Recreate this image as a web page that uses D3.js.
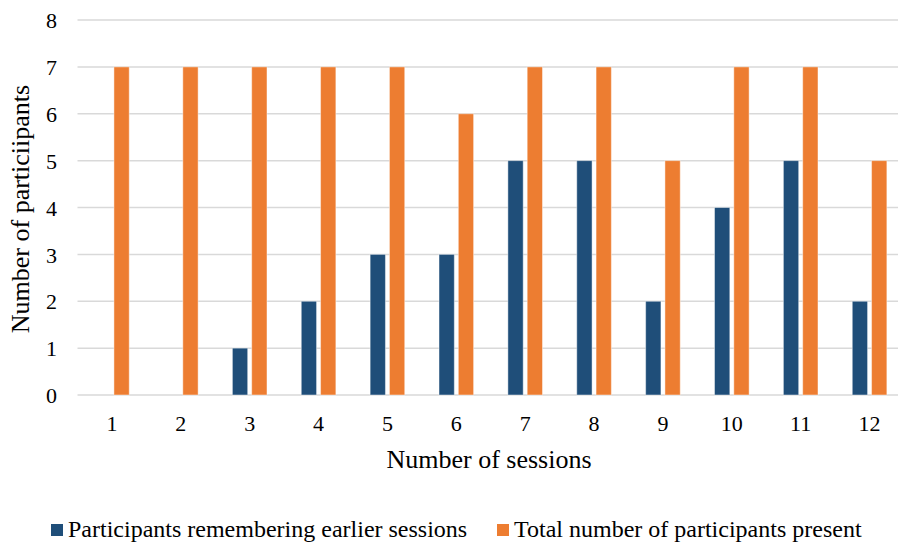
<!DOCTYPE html>
<html>
<head>
<meta charset="utf-8">
<script src="https://cdn.jsdelivr.net/npm/d3@7"></script>
<style>
html, body { margin: 0; padding: 0; background: #fff; }
svg { display: block; }
text { font-family: "Liberation Serif", "Times New Roman", serif; fill: #000; }
</style>
</head>
<body>
<svg id="chart" width="898" height="542"></svg>
<script>
const sessions = ["1","2","3","4","5","6","7","8","9","10","11","12"];
const seriesNames = ["Participants remembering earlier sessions", "Total number of participants present"];
const remembering = [0, 0, 1, 2, 3, 3, 5, 5, 2, 4, 5, 2];
const totalPresent = [7, 7, 7, 7, 7, 6, 7, 7, 5, 7, 7, 5];
const yTicks = [0, 1, 2, 3, 4, 5, 6, 7, 8];
const colors = ["#1F4E79", "#ED7D31"];

const svg = d3.select("#chart");
const W = 898, H = 542;
const plot = { left: 77.5, right: 904, top: 20, bottom: 395 };

const x0 = d3.scaleBand().domain(sessions).range([plot.left, plot.right]).paddingInner(0).paddingOuter(0);
const x1 = d3.scaleBand().domain([0, 1]).range([0, x0.bandwidth()]).paddingInner(0.207).paddingOuter(0.888);
const y = d3.scaleLinear().domain([0, 8]).range([plot.bottom, plot.top]);

// gridlines
svg.append("g").selectAll("line").data(yTicks).join("line")
  .attr("x1", plot.left).attr("x2", W)
  .attr("y1", d => y(d)).attr("y2", d => y(d))
  .attr("stroke", "#d9d9d9").attr("stroke-width", 1.5);

// y tick labels
const yAxis = d3.axisLeft(y).tickValues(yTicks).tickSize(0).tickPadding(0).tickFormat(d3.format("d"));
const gy = svg.append("g").attr("transform", `translate(${57},0)`).call(yAxis);
gy.select(".domain").remove();
gy.selectAll("text").attr("font-size", 22).attr("font-family", "Liberation Serif").attr("fill", "#000").attr("dy", "0.35em");

// x tick labels
const xAxis = d3.axisBottom(x0).tickSize(0).tickPadding(0);
const gx = svg.append("g").attr("transform", `translate(0,${431})`).call(xAxis);
gx.select(".domain").remove();
gx.selectAll("text").attr("font-size", 22).attr("font-family", "Liberation Serif").attr("fill", "#000").attr("dy", 0);

// bars
const seriesData = [remembering, totalPresent];
const groups = svg.append("g").selectAll("g").data(sessions).join("g")
  .attr("transform", d => `translate(${x0(d)},0)`);
groups.selectAll("rect").data((d, i) => seriesData.map((s, k) => ({ k, v: s[i] })))
  .join("rect")
  .filter(d => d.v > 0)
  .attr("x", d => x1(d.k))
  .attr("width", x1.bandwidth())
  .attr("y", d => y(d.v))
  .attr("height", d => y(0) - y(d.v))
  .attr("fill", d => colors[d.k])
  .attr("stroke", "#ffffff").attr("stroke-opacity", 0.45).attr("stroke-width", 1);

// axis titles
svg.append("text").attr("x", 489).attr("y", 468).attr("text-anchor", "middle")
  .attr("font-size", 26).text("Number of sessions");
svg.append("text").attr("transform", `translate(29,${209}) rotate(-90)`).attr("text-anchor", "middle")
  .attr("font-size", 26).text("Number of particiipants");

// legend
const legendX = [51, 497];
const lg = svg.append("g").selectAll("g").data(seriesNames).join("g")
  .attr("transform", (d, i) => `translate(${legendX[i]},0)`);
lg.append("rect").attr("x", 0).attr("y", 524).attr("width", 12).attr("height", 12)
  .attr("fill", (d, i) => colors[i]);
lg.append("text").attr("x", 17).attr("y", 537).attr("font-size", 24).text(d => d);
</script>
</body>
</html>
